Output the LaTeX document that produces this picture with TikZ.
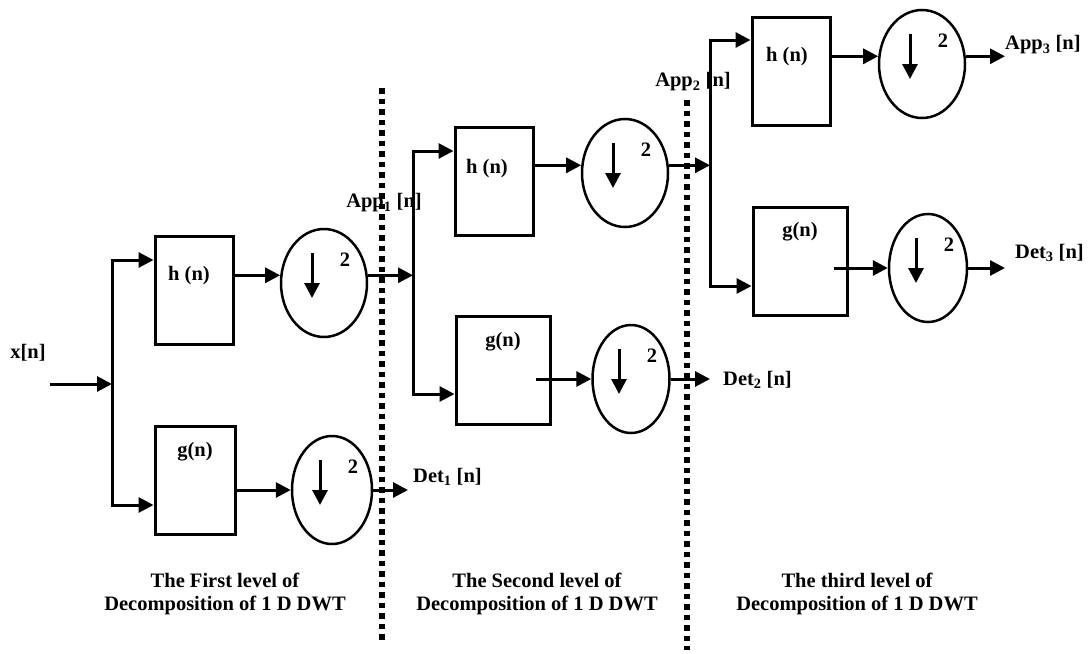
\documentclass[tikz,border=0pt]{standalone}
\usepackage{fontspec}
\setmainfont{Liberation Serif}
\usetikzlibrary{arrows.meta, positioning, calc, shapes.geometric}
\tikzset{
  filt/.style  = {draw, line width=3pt, minimum width=78pt,
                  minimum height=108pt, inner sep=0pt},
  dwn/.style   = {draw, ellipse, line width=2.5pt, minimum width=86pt,
                  minimum height=108pt, inner sep=0pt},
  lbl/.style   = {font=\fontsize{20.5}{23}\selectfont\bfseries, inner sep=0pt},
  flow/.style  = {-{Triangle[length=15pt, width=15pt]}, line width=3pt},
  sep/.style   = {line width=5.5pt, dash pattern=on 5.5pt off 5pt},
}

\begin{document}
\begin{tikzpicture}[x=1pt, y=-1pt]
    \useasboundingbox (0,0) rectangle (1089,653);
    % Level 1
    \node[lbl] (xlbl) at (28,353) {x[n]};
    \coordinate (xin) at (50,384);
    \coordinate (s1h) at (112,260);
    \coordinate (s1g) at (112,505);
    \node[filt]                    (h1)  at (194,290) {};
    \node[filt, minimum width=80pt] (g1) at (195,480) {};
    \node[lbl] (h1t) at ($(h1.north)+(-5,41)$) {h (n)};
    \node[lbl] (g1t) at ($(g1.north)+(0,27)$)  {g(n)};
    \node[dwn]                     (da1) at (324,283) {};
    \node[dwn, minimum width=80pt] (dd1) at (332,490) {};
    \coordinate (d1o) at (408,490);

    % Level 2
    \coordinate (s2h) at (413,151);
    \coordinate (s2g) at (413,394);
    \node[filt]                    (h2)  at (494,181) {};
    \node[filt, minimum width=94pt] (g2) at (503,370) {};
    \node[lbl] (h2t) at ($(h2.north)+(-7,43)$) {h (n)};
    \node[lbl] (g2t) at ($(g2.north)+(0,27)$)  {g(n)};
    \node[dwn]                     (da2) at (625,173) {};
    \node[dwn, minimum width=77pt] (dd2) at (631,379) {};
    \coordinate (d2o) at (710,379);

    % Level 3
    \coordinate (s3h) at (710,40);
    \coordinate (s3g) at (710,286);
    \node[filt]                    (h3)  at (791,71)  {};
    \node[filt, minimum width=94pt] (g3) at (800,261) {};
    \node[lbl] (h3t) at ($(h3.north)+(-4,41)$) {h (n)};
    \node[lbl] (g3t) at ($(g3.north)+(0,26)$)  {g(n)};
    \node[dwn]                     (da3) at (922,64)  {};
    \node[dwn, minimum width=78pt] (dd3) at (928,268) {};
    \coordinate (a3o) at (1005,57);
    \coordinate (d3o) at (1005,268);

    % outputs
    \node[lbl, anchor=west] (det1) at (413,477) {Det\textsubscript{1} [n]};
    \node[lbl, anchor=west] (det2) at (723,380) {Det\textsubscript{2} [n]};
    \node[lbl, anchor=west] (det3) at (1015,253) {Det\textsubscript{3} [n]};
    \node[lbl, anchor=west] (app3) at (1005,45) {App\textsubscript{3} [n]};
    \node[lbl] (app1) at (384,203) {App\textsubscript{1} [n]};
    \node[lbl] (app2) at (693,82)  {App\textsubscript{2} [n]};

    \draw[flow] (xin) -- (xin -| s1h);
    \draw[flow] (s1g) -- (s1h) -- (h1.west |- s1h);
    \draw[flow] (s1h) -- (s1g) -- (g1.west |- s1g);
    \draw[flow] (h1.east |- da1.170) -- (da1.170);
    \draw[flow] (g1.east |- dd1.west) -- (dd1.west);
    \draw[flow] (da1.10) -- (da1.10 -| s2h);
    \draw[flow] (dd1.east) -- (d1o);

    \draw[flow] (s2g) -- (s2h) -- (h2.west |- s2h);
    \draw[flow] (s2h) -- (s2g) -- (g2.west |- s2g);
    \draw[flow] (h2.east |- da2.170) -- (da2.170);
    \draw[flow] ($(g2.east |- dd2.west)+(-16,0)$) -- (dd2.west);
    \draw[flow] (da2.10) -- (da2.10 -| s3h);
    \draw[flow] (dd2.east) -- (d2o);

    \draw[flow] (s3g) -- (s3h) -- (h3.west |- s3h);
    \draw[flow] (s3h) -- (s3g) -- (g3.west |- s3g);
    \draw[flow] (h3.east |- da3.170) -- (da3.170);
    \draw[flow] ($(g3.east |- dd3.west)+(-15,0)$) -- (dd3.west);
    \draw[flow] (da3.10) -- (da3.10 -| a3o);
    \draw[flow] (dd3.east) -- (d3o);

    % down-sampling marks
    \foreach \e in {da1,dd1,da2,dd2,da3,dd3} {
      \draw[flow] ($(\e.center)+(-12,-30)$) -- ($(\e.center)+(-12,15)$);
      \node[lbl] (\e-2) at ($(\e.center)+(21,-23)$) {2};
    }

    % level separators
    \coordinate (v1t) at (382,88);
    \coordinate (v1b) at (382,640);
    \coordinate (v2t) at (687,100);
    \coordinate (v2b) at (687,650);
    \draw[sep] (v1t) -- (v1b);
    \draw[sep] (v2t) -- (v2b);

    \node[lbl, align=center] (lev1) at (225,594) {The First level of\\Decomposition of 1 D DWT};
    \node[lbl, align=center] (lev2) at (537,594) {The Second level of\\Decomposition of 1 D DWT};
    \node[lbl, align=center] (lev3) at (857,594) {The third level of\\Decomposition of 1 D DWT};
\end{tikzpicture}
\end{document}
